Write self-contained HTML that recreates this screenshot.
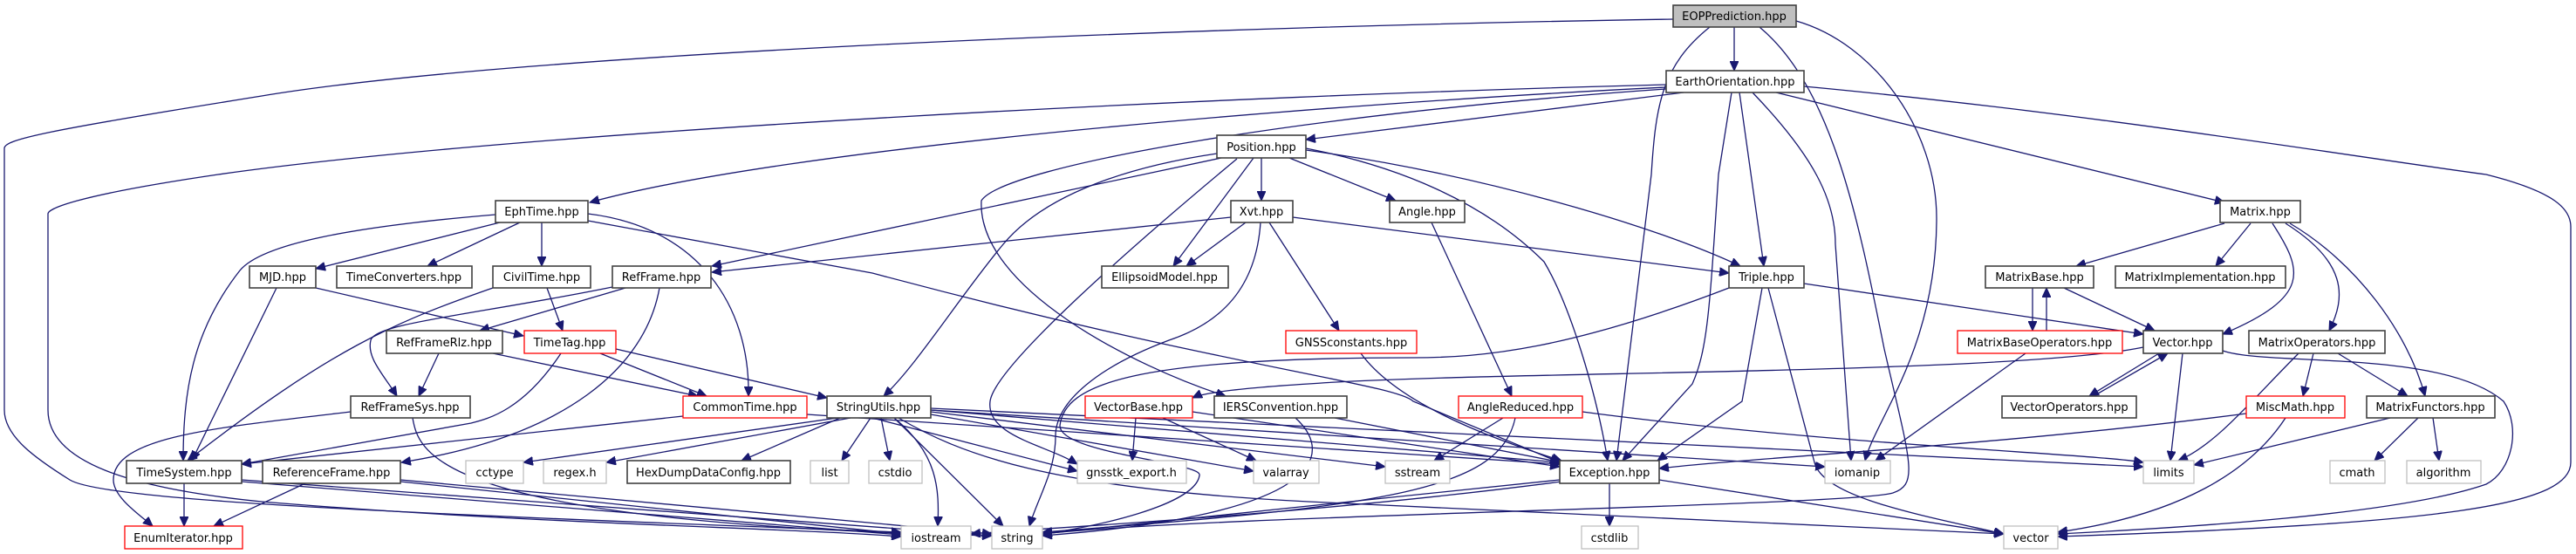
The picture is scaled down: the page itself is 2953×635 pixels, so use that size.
<!DOCTYPE html>
<html><head><meta charset="utf-8"><style>
html,body{margin:0;padding:0;background:#fff;width:2953px;height:635px;overflow:hidden}
svg text{font-family:"DejaVu Sans","Liberation Sans",sans-serif;font-size:13px;fill:#000;text-anchor:middle}
.e{fill:none;stroke:#191970;stroke-width:1.3}
.b{fill:#fff;stroke:#404040;stroke-width:1.6}
.r{fill:#fff;stroke:#ff0000;stroke-width:1.3}
.g{fill:#fff;stroke:#bfbfbf;stroke-width:1.3}
</style></head><body>
<svg width="2953" height="635" viewBox="0 0 2953 635" xmlns="http://www.w3.org/2000/svg">
<defs><marker id="a" markerUnits="userSpaceOnUse" markerWidth="12" markerHeight="10" refX="11" refY="5" orient="auto"><path d="M0,0 L11,5 L0,10 z" fill="#191970" stroke="#191970"/></marker></defs>
<g class="e" marker-end="url(#a)">
<path d="M1988,31 L1988,81"/>
<path d="M1960,31 C1905,75 1898,120 1893,200 L1853,528"/>
<path d="M2059,24 C2150,50 2220,150 2220,250 C2220,400 2150,480 2138,528"/>
<path d="M2017,31 C2100,100 2130,250 2160,400 C2190,530 2200,555 2170,565 C2120,580 1400,590 1195,612"/>
<path d="M1918,22 C1400,30 600,60 300,110 C50,150 5,160 5,170 L5,470 C5,500 40,525 80,550 C120,575 500,590 1033,610"/>
<path d="M1910,97 C1400,110 600,150 250,200 C80,225 55,240 55,245 L55,470 C55,530 150,560 300,575 C600,600 900,605 1033,615"/>
<path d="M1910,100 C1500,120 900,170 676,232"/>
<path d="M1930,106 L1497,160"/>
<path d="M1910,102 C1500,130 1150,190 1125,230 C1120,330 1300,420 1405,454"/>
<path d="M1994,106 L2022,305"/>
<path d="M1985,106 L1970,200 C1960,350 1958,400 1940,440 L1860,528"/>
<path d="M2009,106 C2080,180 2104,230 2104,280 L2122,528"/>
<path d="M2036,106 L2550,232"/>
<path d="M2068,99 C2400,130 2700,180 2850,200 C2930,220 2947,240 2947,260 L2947,530 C2947,580 2800,600 2359,615"/>
<path d="M1446,181 L1446,230"/>
<path d="M1478,181 L1600,230"/>
<path d="M1437,181 L1345,305"/>
<path d="M1497,172 C1700,200 1900,260 1995,305"/>
<path d="M1497,170 C1600,190 1700,230 1770,300 C1800,350 1830,450 1843,528"/>
<path d="M1395,176 C1300,190 1200,220 1150,280 C1100,340 1050,420 1013,454"/>
<path d="M1400,181 L816,305"/>
<path d="M1418,182 C1300,280 1140,420 1135,460 C1130,500 1200,510 1235,532"/>
<path d="M1428,255 L1360,305"/>
<path d="M1482,249 L1982,313"/>
<path d="M1411,249 L816,312"/>
<path d="M1455,255 L1535,379"/>
<path d="M1445,255 C1440,330 1400,370 1340,390 C1260,420 1210,460 1210,500 C1210,540 1190,570 1180,603"/>
<path d="M1641,255 L1733,454"/>
<path d="M1560,405 C1600,460 1700,500 1790,528"/>
<path d="M2068,325 L2457,383"/>
<path d="M2020,330 L1997,460 L1900,528"/>
<path d="M2027,330 L2080,530 C2090,570 2200,590 2297,612"/>
<path d="M1982,330 C1800,400 1700,410 1620,410 C1300,410 1220,440 1215,488 C1215,520 1380,530 1375,545 C1370,580 1250,605 1195,612"/>
<path d="M2457,398 C2300,430 1700,425 1500,440 C1420,445 1380,450 1367,456"/>
<path d="M2475,405 L2395,454"/>
<path d="M2400,454 L2485,405"/>
<path d="M2502,405 L2488,528"/>
<path d="M2548,402 C2600,420 2800,400 2870,460 C2890,490 2880,540 2850,555 C2750,590 2500,605 2359,612"/>
<path d="M2330,330 L2330,379"/>
<path d="M2346,379 L2346,330"/>
<path d="M2366,330 L2470,379"/>
<path d="M2322,405 L2150,528"/>
<path d="M2550,256 L2380,305"/>
<path d="M2580,256 L2540,305"/>
<path d="M2605,256 C2640,310 2650,340 2548,383"/>
<path d="M2620,256 C2690,300 2690,340 2670,379"/>
<path d="M2625,256 C2700,300 2760,380 2780,454"/>
<path d="M2652,405 L2640,454"/>
<path d="M2680,405 L2760,454"/>
<path d="M2635,405 C2580,460 2540,510 2497,528"/>
<path d="M2575,474 C2300,510 2000,525 1902,537"/>
<path d="M2620,479 C2580,540 2500,590 2359,610"/>
<path d="M2740,479 L2515,533"/>
<path d="M2772,479 L2722,528"/>
<path d="M2789,479 L2796,528"/>
<path d="M1723,479 L1644,528"/>
<path d="M1814,472 C2100,510 2400,520 2457,530"/>
<path d="M1737,479 C1720,560 1600,580 1195,610"/>
<path d="M1530,479 L1790,530"/>
<path d="M1485,479 C1530,520 1520,590 1195,614"/>
<path d="M1302,479 L1298,528"/>
<path d="M1333,479 L1440,528"/>
<path d="M1367,472 L1788,535"/>
<path d="M1845,554 L1845,603"/>
<path d="M1788,550 C1600,570 1300,600 1195,612"/>
<path d="M1902,550 L2297,612"/>
<path d="M1790,552 C1500,590 1200,605 1113,612"/>
<path d="M960,479 L600,530"/>
<path d="M975,479 L695,530"/>
<path d="M963,479 L850,528"/>
<path d="M998,479 L965,528"/>
<path d="M1010,479 L1020,528"/>
<path d="M1000,479 L1235,540"/>
<path d="M1067,475 L1437,540"/>
<path d="M1067,472 L1588,535"/>
<path d="M1067,470 L1788,530"/>
<path d="M1067,470 L2092,535"/>
<path d="M1067,468 L2457,535"/>
<path d="M1025,479 C1075,520 1077,560 1075,603"/>
<path d="M1025,479 L1150,603"/>
<path d="M1030,479 C1100,520 1200,560 1500,575 L2297,612"/>
<path d="M783,477 L277,532"/>
<path d="M925,475 L1788,532"/>
<path d="M688,405 L810,454"/>
<path d="M706,400 L948,456"/>
<path d="M643,405 C600,470 560,480 540,485 L277,532"/>
<path d="M503,405 L480,454"/>
<path d="M565,405 L800,454"/>
<path d="M717,330 L550,379"/>
<path d="M702,329 C550,360 430,370 425,390 C420,410 440,430 455,454"/>
<path d="M756,330 C740,420 650,500 460,530"/>
<path d="M627,330 L645,379"/>
<path d="M565,330 C450,370 380,400 215,528"/>
<path d="M317,330 L220,528"/>
<path d="M362,330 L600,385"/>
<path d="M573,255 L362,308"/>
<path d="M596,255 L490,305"/>
<path d="M621,255 L621,305"/>
<path d="M568,246 C400,260 300,280 275,310 C220,380 210,450 210,528"/>
<path d="M674,245 C800,260 860,350 858,454"/>
<path d="M674,253 L1000,313 C1400,420 1600,440 1620,460 L1788,530"/>
<path d="M402,472 C250,490 130,500 130,550 C130,570 160,590 175,603"/>
<path d="M473,479 C480,520 500,600 1137,614"/>
<path d="M211,554 L211,603"/>
<path d="M277,552 C600,580 900,600 1033,613"/>
<path d="M277,550 L1137,614"/>
<path d="M350,554 L245,603"/>
<path d="M459,550 L1137,612"/>
<path d="M459,552 L1033,612"/>
</g>
<!-- nodes -->
<rect x="1918" y="6" width="141" height="25" fill="#bfbfbf" stroke="#404040" stroke-width="1.6"/><text x="1988" y="23">EOPPrediction.hpp</text>
<rect class="b" x="1910" y="81" width="158" height="25"/><text x="1989" y="98">EarthOrientation.hpp</text>
<rect class="b" x="1395" y="155" width="102" height="26"/><text x="1446" y="173">Position.hpp</text>
<rect class="b" x="568" y="230" width="106" height="25"/><text x="621" y="247">EphTime.hpp</text>
<rect class="b" x="1411" y="230" width="71" height="25"/><text x="1446" y="247">Xvt.hpp</text>
<rect class="b" x="1593" y="230" width="86" height="25"/><text x="1636" y="247">Angle.hpp</text>
<rect class="b" x="2545" y="230" width="92" height="25"/><text x="2591" y="247">Matrix.hpp</text>
<rect class="b" x="286" y="305" width="76" height="25"/><text x="324" y="322">MJD.hpp</text>
<rect class="b" x="386" y="305" width="155" height="25"/><text x="463" y="322">TimeConverters.hpp</text>
<rect class="b" x="565" y="305" width="112" height="25"/><text x="621" y="322">CivilTime.hpp</text>
<rect class="b" x="702" y="305" width="113" height="25"/><text x="758" y="322">RefFrame.hpp</text>
<rect class="b" x="1263" y="305" width="145" height="25"/><text x="1335" y="322">EllipsoidModel.hpp</text>
<rect class="b" x="1982" y="305" width="86" height="25"/><text x="2025" y="322">Triple.hpp</text>
<rect class="b" x="2276" y="305" width="124" height="25"/><text x="2338" y="322">MatrixBase.hpp</text>
<rect class="b" x="2425" y="305" width="195" height="25"/><text x="2522" y="322">MatrixImplementation.hpp</text>
<rect class="b" x="443" y="379" width="133" height="26"/><text x="509" y="397">RefFrameRlz.hpp</text>
<rect class="r" x="601" y="379" width="105" height="26"/><text x="653" y="397">TimeTag.hpp</text>
<rect class="r" x="1474" y="379" width="150" height="26"/><text x="1549" y="397">GNSSconstants.hpp</text>
<rect class="r" x="2244" y="379" width="189" height="26"/><text x="2338" y="397">MatrixBaseOperators.hpp</text>
<rect class="b" x="2457" y="379" width="91" height="26"/><text x="2502" y="397">Vector.hpp</text>
<rect class="b" x="2578" y="379" width="156" height="26"/><text x="2656" y="397">MatrixOperators.hpp</text>
<rect class="b" x="402" y="454" width="137" height="25"/><text x="470" y="471">RefFrameSys.hpp</text>
<rect class="r" x="783" y="454" width="142" height="25"/><text x="854" y="471">CommonTime.hpp</text>
<rect class="b" x="948" y="454" width="119" height="25"/><text x="1007" y="471">StringUtils.hpp</text>
<rect class="r" x="1244" y="454" width="123" height="25"/><text x="1305" y="471">VectorBase.hpp</text>
<rect class="b" x="1392" y="454" width="152" height="25"/><text x="1468" y="471">IERSConvention.hpp</text>
<rect class="r" x="1672" y="454" width="142" height="25"/><text x="1743" y="471">AngleReduced.hpp</text>
<rect class="b" x="2295" y="454" width="154" height="25"/><text x="2372" y="471">VectorOperators.hpp</text>
<rect class="r" x="2575" y="454" width="113" height="25"/><text x="2631" y="471">MiscMath.hpp</text>
<rect class="b" x="2713" y="454" width="147" height="25"/><text x="2786" y="471">MatrixFunctors.hpp</text>
<rect class="b" x="145" y="528" width="132" height="26"/><text x="211" y="546">TimeSystem.hpp</text>
<rect class="b" x="301" y="528" width="158" height="26"/><text x="380" y="546">ReferenceFrame.hpp</text>
<rect class="g" x="534" y="528" width="66" height="26"/><text x="567" y="546">cctype</text>
<rect class="g" x="623" y="528" width="72" height="26"/><text x="659" y="546">regex.h</text>
<rect class="b" x="719" y="528" width="187" height="26"/><text x="812" y="546">HexDumpDataConfig.hpp</text>
<rect class="g" x="929" y="528" width="44" height="26"/><text x="951" y="546">list</text>
<rect class="g" x="996" y="528" width="61" height="26"/><text x="1026" y="546">cstdio</text>
<rect class="g" x="1235" y="528" width="125" height="26"/><text x="1297" y="546">gnsstk_export.h</text>
<rect class="g" x="1437" y="528" width="75" height="26"/><text x="1474" y="546">valarray</text>
<rect class="g" x="1588" y="528" width="74" height="26"/><text x="1625" y="546">sstream</text>
<rect class="b" x="1788" y="528" width="114" height="26"/><text x="1845" y="546">Exception.hpp</text>
<rect class="g" x="2092" y="528" width="75" height="26"/><text x="2129" y="546">iomanip</text>
<rect class="g" x="2457" y="528" width="58" height="26"/><text x="2486" y="546">limits</text>
<rect class="g" x="2671" y="528" width="63" height="26"/><text x="2702" y="546">cmath</text>
<rect class="g" x="2759" y="528" width="85" height="26"/><text x="2801" y="546">algorithm</text>
<rect class="r" x="143" y="603" width="135" height="26"/><text x="210" y="621">EnumIterator.hpp</text>
<rect class="g" x="1033" y="603" width="80" height="26"/><text x="1073" y="621">iostream</text>
<rect class="g" x="1137" y="603" width="58" height="26"/><text x="1166" y="621">string</text>
<rect class="g" x="1813" y="603" width="65" height="26"/><text x="1845" y="621">cstdlib</text>
<rect class="g" x="2297" y="603" width="62" height="26"/><text x="2328" y="621">vector</text>
</svg>
</body></html>
